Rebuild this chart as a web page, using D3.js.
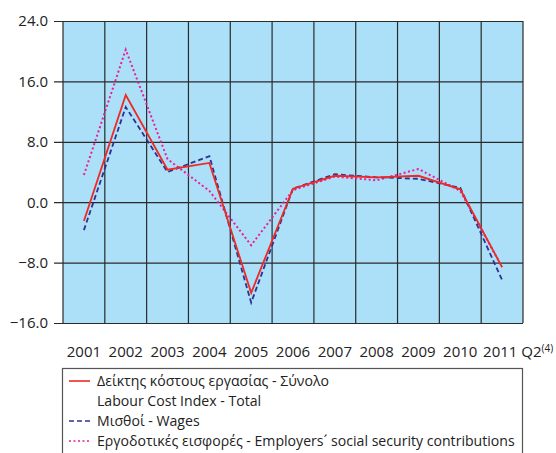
<!DOCTYPE html>
<html>
<head>
<meta charset="utf-8">
<script src="https://cdn.jsdelivr.net/npm/d3@7"></script>
<style>
  body { margin: 0; background: #fff; }
  svg { display: block; font-family: "Open Sans", "Noto Sans", sans-serif; }
</style>
</head>
<body>
<svg id="chart" width="556" height="453"></svg>
<script>
// years on the x axis (last one is 2011 Q2)
var years = ["2001", "2002", "2003", "2004", "2005", "2006", "2007", "2008", "2009", "2010", "2011"];
// annual % change
var totalIdx = [-2.5, 14.2, 4.3, 5.2, -12.0, 1.8, 3.5, 3.3, 3.5, 1.7, -8.6];
var wages = [-3.7, 12.6, 4.0, 6.1, -13.3, 1.8, 3.7, 3.3, 3.1, 1.9, -10.3];
var employers = [3.6, 20.2, 5.7, 1.5, -5.7, 1.6, 3.4, 2.9, 4.4, 1.5, -8.6];
var yTicks = [-16, -8, 0, 8, 16, 24];

var legendRows = [
    { text: "Δείκτης κόστους εργασίας - Σύνολο", color: "#ee2a24", dash: null },
    { text: "Labour Cost Index - Total", color: null, dash: null },
    { text: "Μισθοί - Wages", color: "#2e3192", dash: "5,3" },
    { text: "Εργοδοτικές εισφορές - Employers\u00B4 social security contributions", color: "#ec1c98", dash: "2,2.5" }
];

var svg = d3.select("#chart");
var margin = { left: 63, right: 33, top: 21, bottom: 130 };
var W = 556, H = 453;

var x = d3.scaleBand().domain(years).range([margin.left, W - margin.right]).padding(0);
var y = d3.scaleLinear().domain([-16, 24]).range([H - margin.bottom, margin.top]);
var cx = d => x(d) + x.bandwidth() / 2;

// plot background
svg.append("rect")
    .attr("x", margin.left).attr("y", margin.top)
    .attr("width", W - margin.left - margin.right)
    .attr("height", y(-16) - y(24))
    .attr("fill", "#abe0f8");

// vertical grid at band edges
var edges = years.map(d => x(d)).concat([x(years[years.length - 1]) + x.bandwidth()]);
svg.append("g").selectAll("line")
    .data(edges).enter().append("line")
    .attr("x1", d => d).attr("x2", d => d)
    .attr("y1", y(24)).attr("y2", y(-16))
    .attr("stroke", "#2a2a2a").attr("stroke-width", 1.2);

// horizontal grid + y axis
var yAxis = d3.axisLeft(y).tickValues(yTicks).tickFormat(d3.format(".1f"))
    .tickSize(-(W - margin.left - margin.right)).tickPadding(15);
var gy = svg.append("g").attr("transform", "translate(" + margin.left + ",0)").call(yAxis);
gy.select(".domain").remove();
gy.selectAll(".tick line").attr("stroke", "#2a2a2a").attr("stroke-width", 1.2).attr("x1", -9);
gy.selectAll(".tick text").attr("font-size", 15).attr("fill", "#222")
    .attr("font-family", "Open Sans, sans-serif");

// x labels
var xl = svg.append("g");
xl.selectAll("text")
    .data(years.slice(0, -1)).enter().append("text")
    .attr("x", d => cx(d)).attr("y", 357)
    .attr("text-anchor", "middle").attr("font-size", 15).attr("fill", "#222")
    .text(d => d);
var last = xl.append("text")
    .attr("x", cx("2011") - 19).attr("y", 357)
    .attr("font-size", 15).attr("fill", "#222");
last.append("tspan").text("2011 Q2");
last.append("tspan").attr("font-size", 10).attr("dy", -5).text("(4)");

// lines
var line = d3.line().x((d, i) => cx(years[i])).y(d => y(d));
function drawSeries(vals, color, dash, w) {
    svg.append("path").datum(vals)
        .attr("d", line)
        .attr("fill", "none")
        .attr("stroke", color)
        .attr("stroke-width", w)
        .attr("stroke-dasharray", dash);
}
drawSeries(employers, "#ec1c98", "2,2.5", 2);
drawSeries(wages, "#2e3192", "5,3", 1.8);
drawSeries(totalIdx, "#ee2a24", null, 1.8);

// legend
svg.append("rect")
    .attr("x", 62.5).attr("y", 368.5)
    .attr("width", 460).attr("height", 100)
    .attr("fill", "#fff").attr("stroke", "#555").attr("stroke-width", 1.2);
var lg = svg.append("g").selectAll("g")
    .data(legendRows).enter().append("g")
    .attr("transform", (d, i) => "translate(0," + (381 + i * 20) + ")");
lg.filter(d => d.color).append("line")
    .attr("x1", 69).attr("x2", 90).attr("y1", 0).attr("y2", 0)
    .attr("stroke", d => d.color).attr("stroke-width", 1.6)
    .attr("stroke-dasharray", d => d.dash);
lg.append("text")
    .attr("x", 97).attr("y", 5)
    .attr("font-size", 14.1).attr("fill", "#222")
    .text(d => d.text);
</script>
</body>
</html>
